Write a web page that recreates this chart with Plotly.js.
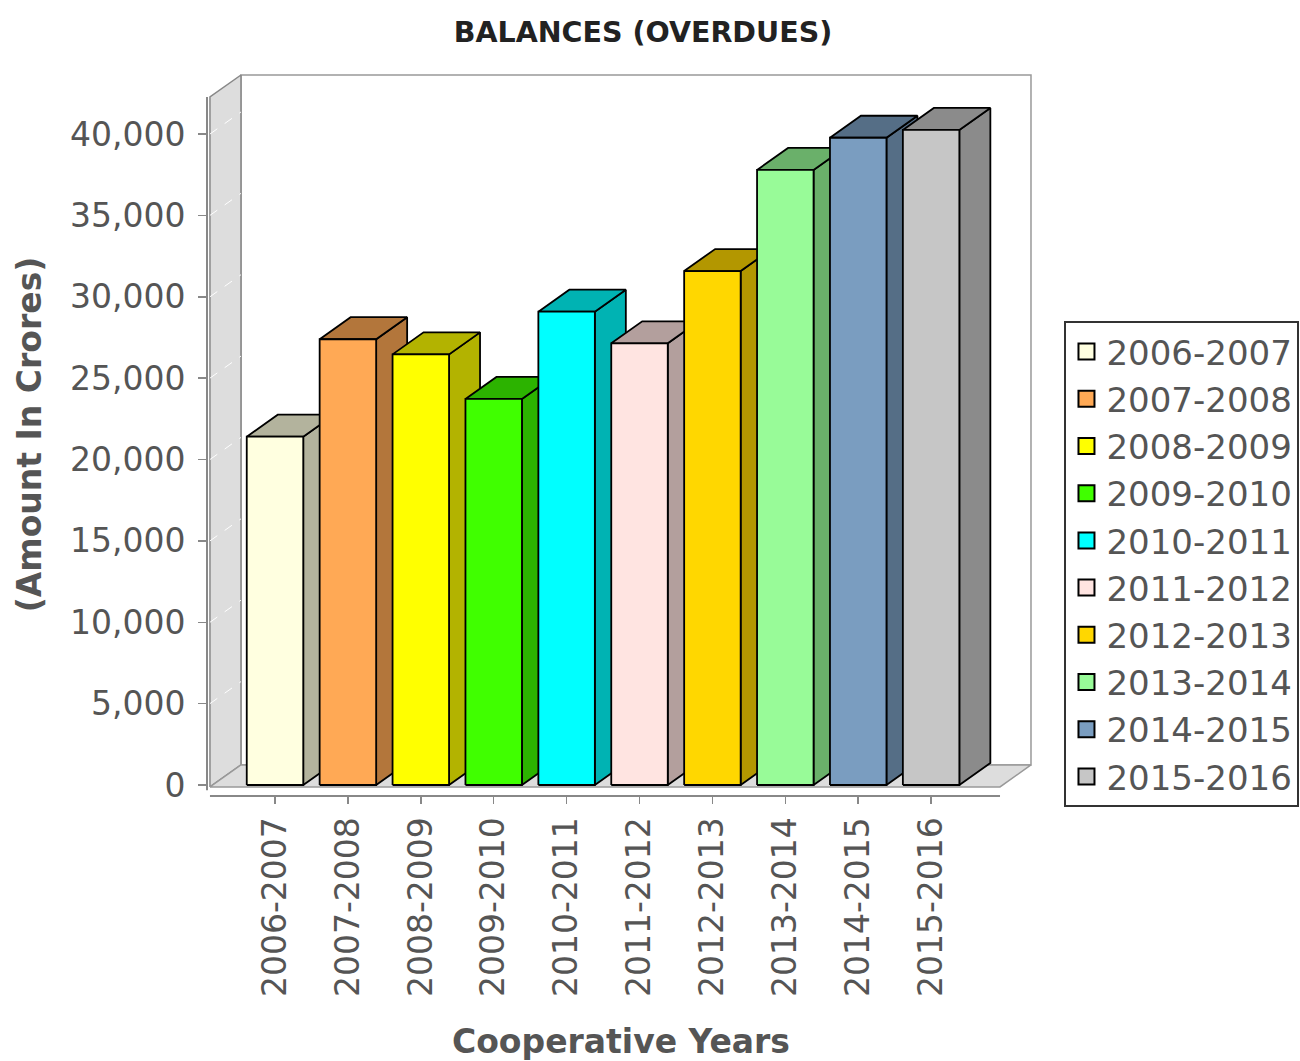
<!DOCTYPE html>
<html>
<head>
<meta charset="utf-8">
<script src="https://cdn.plot.ly/plotly-3.0.1.min.js"></script>
<style>html,body{margin:0;padding:0;background:#fff;}#chart{width:1300px;height:1061px;}</style>
</head>
<body>
<div id="chart"></div>
<script>
// ---- data ----
const categories = ['2006-2007','2007-2008','2008-2009','2009-2010','2010-2011','2011-2012','2012-2013','2013-2014','2014-2015','2015-2016'];
const values = [21400, 27390, 26460, 23720, 29080, 27140, 31580, 37790, 39770, 40250];
const frontColors = ['#FFFFE0','#FFA955','#FFFF00','#40FF00','#00FFFF','#FFE4E1','#FFD700','#98FB98','#7A9DC0','#C6C6C6'];
const sideColors  = ['#B3B39D','#B3763B','#B3B300','#2CB300','#00B3B3','#B39F9D','#B39700','#6AB06A','#556E86','#8B8B8B'];
const yTickVals = [0,5000,10000,15000,20000,25000,30000,35000,40000];
const yTickText = ['0','5,000','10,000','15,000','20,000','25,000','30,000','35,000','40,000'];

// ---- 3D geometry in axis units ----
const BAR_W = 0.775;
const DX = 0.425;     // depth offset in category units
const DY = 1352;      // depth offset in value units
const WALL_L = -0.892, WALL_R = 9.945, WALL_T = 42273, FLOOR = -120;

const traces = [];
function poly(xs, ys, fill, line, lw) {
  traces.push({type:'scatter', mode:'lines', x:xs.concat([xs[0]]), y:ys.concat([ys[0]]),
    fill:'toself', fillcolor:fill, line:{color:line, width:lw}, hoverinfo:'skip', showlegend:false});
}
// back wall
poly([WALL_L+DX, WALL_R+DX, WALL_R+DX, WALL_L+DX], [FLOOR+DY, FLOOR+DY, WALL_T+DY, WALL_T+DY], '#ffffff', '#999999', 1.5);
// left wall
poly([WALL_L, WALL_L+DX, WALL_L+DX, WALL_L], [FLOOR, FLOOR+DY, WALL_T+DY, WALL_T], '#dddddd', '#888888', 1.5);
// floor
poly([WALL_L, WALL_L+DX, WALL_R+DX, WALL_R], [FLOOR, FLOOR+DY, FLOOR+DY, FLOOR], '#dddddd', '#999999', 1.5);
// gridlines on left wall
yTickVals.forEach(v => {
  if (v === 0) return;
  traces.push({type:'scatter', mode:'lines', x:[WALL_L, WALL_L+DX], y:[v, v+DY],
    line:{color:'#ffffff', width:1, dash:'dash'}, hoverinfo:'skip', showlegend:false});
});
// bars
values.forEach((v, i) => {
  const l = i - BAR_W/2, r = i + BAR_W/2;
  poly([r, r+DX, r+DX, r], [0, DY, v+DY, v], sideColors[i], '#000000', 1.8);
  poly([l, l+DX, r+DX, r], [v, v+DY, v+DY, v], sideColors[i], '#000000', 1.8);
  poly([l, r, r, l], [0, 0, v, v], frontColors[i], '#000000', 1.8);
});
// legend entries
categories.forEach((c, i) => {
  traces.push({type:'scatter', mode:'markers', x:[null], y:[null], name:c,
    marker:{symbol:'square', size:20, color:frontColors[i], line:{color:'#000000', width:2}},
    hoverinfo:'skip', showlegend:true});
});

const layout = {
  width:1300, height:1061,
  margin:{l:207, r:265, t:73, b:265, pad:0, autoexpand:false},
  paper_bgcolor:'#ffffff', plot_bgcolor:'rgba(0,0,0,0)',
  font:{family:'DejaVu Sans, sans-serif', color:'#555555'},
  title:{text:'BALANCES (OVERDUES)', font:{size:28.5, weight:'bold', color:'#222222'},
    x:0.4946, xref:'container', xanchor:'center', y:0.97, yref:'container', yanchor:'middle'},
  xaxis:{range:[-0.9328, 10.425], tickmode:'array', tickvals:categories.map((c,i)=>i), ticktext:categories,
    tickangle:-90, ticks:'outside', ticklen:7, tickcolor:'#888888', tickwidth:1.5,
    showline:false, showgrid:false, zeroline:false, fixedrange:true,
    tickfont:{size:33, color:'#555555'},
    title:{text:'Cooperative Years', font:{size:33, weight:'bold', color:'#555555'}, standoff:34}},
  yaxis:{range:[-676, 43748], tickmode:'array', tickvals:yTickVals, ticktext:yTickText,
    ticks:'outside', ticklen:8, tickcolor:'#888888', tickwidth:1.5, ticklabelstandoff:6,
    showline:false, showgrid:false, zeroline:false, fixedrange:true,
    tickfont:{size:33, color:'#555555'},
    title:{text:'(Amount In Crores)', font:{size:33, weight:'bold', color:'#555555'}, standoff:18}},
  shapes:[
    {type:'line', xref:'paper', yref:'y', x0:0, x1:0, y0:FLOOR-200, y1:WALL_T, line:{color:'#888888', width:2}},
    {type:'line', xref:'x', yref:'paper', x0:WALL_L, x1:WALL_R, y0:0, y1:0, line:{color:'#888888', width:2}}
  ],
  legend:{x:1.0356, xanchor:'left', y:0.657, yanchor:'top', bgcolor:'#ffffff',
    bordercolor:'#333333', borderwidth:2, font:{size:34, color:'#555555'}, traceorder:'normal'},
  showlegend:true
};
Plotly.newPlot('chart', traces, layout, {displayModeBar:false, staticPlot:true});
</script>
</body>
</html>
